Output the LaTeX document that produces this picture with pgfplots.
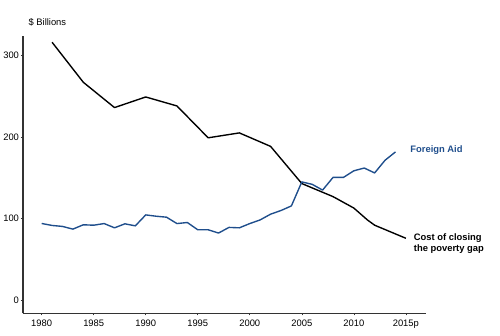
\documentclass[border=0pt]{standalone}
\usepackage{pgfplots}
\pgfplotsset{compat=1.18}
\usepackage{fontspec}
\setmainfont{Liberation Sans}
\definecolor{aidblue}{HTML}{1F4E8C}
\definecolor{axisgrey}{HTML}{333333}
\begin{document}
\begin{tikzpicture}[x=1bp,y=1bp]
\path (0,0) rectangle (500,338);
\begin{axis}[
  at={(19bp,22bp)}, anchor=south west,
  scale only axis, width=406bp, height=280bp,
  xmin=1978.2, xmax=2016.9, ymin=-16, ymax=324,
  axis x line*=bottom, axis y line*=left,
  axis line style={axisgrey, line width=1.6pt, -},
  xtick={1980,1985,1990,1995,2000,2005,2010,2015},
  xticklabels={1980,1985,1990,1995,2000,2005,2010,2015p},
  ytick={0,100,200,300},
  tick style={axisgrey, line width=0.6pt},
  tick align=outside, major tick length=2bp,
  tick label style={font=\fontsize{9.5}{11}\selectfont, text=black},
  /pgf/number format/assume math mode=true,
  /pgf/number format/1000 sep={},
  xticklabel style={yshift=-1bp},
  yticklabel style={xshift=1.5bp},
  clip=false,
]
\addplot[black, line width=1.4pt, line join=round] coordinates {
(1981,316) (1984,267) (1987,236) (1990,249) (1993,238) (1996,199) (1999,205)
(2002,188.5) (2005,143) (2008,127) (2010,113) (2011.3,98.5) (2012,92) (2015,76)};
\addplot[aidblue, line width=1.4pt, line join=round] coordinates {
(1980,94.1) (1981,91.7) (1982,90.5) (1983,87.2) (1984,92.5) (1985,92) (1986,94)
(1987,88.8) (1988,93.7) (1989,91.2) (1990,104.6) (1991,103) (1992,101.8) (1993,94)
(1994,95.3) (1995,86.4) (1996,86.4) (1997,82.4) (1998,89.3) (1999,88.8) (2000,94)
(2001,98.5) (2002,105.5) (2003,110) (2004,115.6) (2005,145) (2006,142) (2007,135)
(2008,150.5) (2009,150.5) (2010,158.6) (2011,162) (2012,156) (2013,171.5) (2014,181.7)};
\end{axis}
\node[anchor=west, font=\fontsize{9.5}{11}\selectfont, inner sep=0pt] at (24.5,315) {\$ Billions};
\node[anchor=west, font=\fontsize{9.5}{11}\selectfont\bfseries, text=aidblue, inner sep=0pt] at (409.5,187) {Foreign Aid};
\node[anchor=north west, align=left, font=\fontsize{9.5}{11.5}\selectfont\bfseries, inner sep=0pt] at (413,102.5) {Cost of closing\\the poverty gap};
\end{tikzpicture}
\end{document}
